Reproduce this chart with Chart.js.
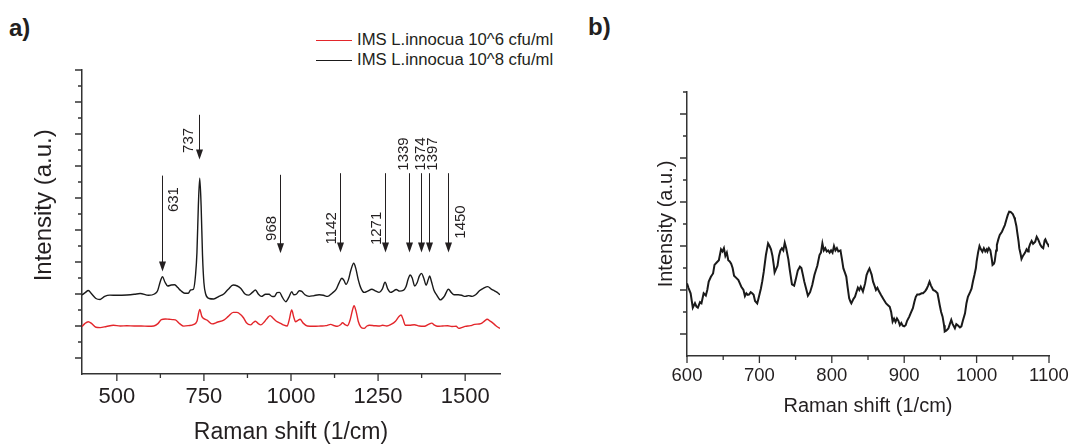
<!DOCTYPE html>
<html>
<head>
<meta charset="utf-8">
<script src="https://cdn.jsdelivr.net/npm/chart.js@4.4.1/dist/chart.umd.min.js"></script>
<style>
  body { margin: 0; background: #fff; width: 1075px; height: 446px; position: relative; overflow: hidden;
         font-family: "Liberation Sans", Arial, sans-serif; color: #231f20; }
  canvas { position: absolute; top: 0; }
  #left { left: 0; }
  #right { left: 560px; }
  .tag { position: absolute; font-weight: bold; font-size: 24px; line-height: 24px; }
  .legend { position: absolute; left: 316px; top: 30px; font-size: 16.7px; line-height: 20px; }
  .legend div { display: flex; align-items: center; }
  .legend span.sw { display: inline-block; width: 36px; height: 0; border-top: 1.5px solid; margin-right: 5px; }
</style>
</head>
<body>
<div class="tag" style="left:9px;top:16px">a)</div>
<div class="tag" style="left:588px;top:15px">b)</div>
<div class="legend">
  <div><span class="sw" style="border-color:#e3262b"></span>IMS L.innocua 10^6 cfu/ml</div>
  <div><span class="sw" style="border-color:#1a1a1a"></span>IMS L.innocua 10^8 cfu/ml</div>
</div>
<canvas id="left" width="560" height="446"></canvas>
<canvas id="right" width="515" height="446"></canvas>
<script>
// ---- panel a: spectra (offset intensities, arbitrary units) ----
const shiftA = [400,410,418,428,440,452,465,480,500,529,550,567,591,608,617,625,631,638,646,656,666,675,684,695,705,712,720,726,730,734,738,742,746,750,755,765,778,793,807,820,834,846,856,868,879,889,898,906,915,927,937,945,952,960,967,975,985,994,1002,1008,1016,1024,1031,1040,1052,1066,1081,1093,1105,1118,1129,1138,1146,1152,1158,1165,1172,1180,1186,1193,1200,1210,1220,1232,1242,1253,1262,1270,1278,1286,1294,1302,1312,1322,1330,1336,1342,1348,1355,1362,1368,1375,1381,1388,1394,1398,1403,1410,1418,1429,1440,1452,1460,1468,1480,1490,1500,1510,1520,1530,1541,1552,1565,1575,1584,1592,1600];
const conc8 = [4.94,5.1,5.22,5.0,4.72,4.66,4.85,4.93,4.92,4.94,4.98,5.03,4.92,5.0,5.2,5.8,6.08,5.75,5.5,5.56,5.58,5.4,5.2,5.05,5.05,5.25,5.3,6.2,7.6,10.5,12.23,10.5,7.4,5.7,5.0,4.72,4.69,4.85,5.0,5.3,5.56,5.5,5.35,5.0,4.93,5.1,5.25,5.0,4.85,4.98,4.98,4.85,4.84,5.08,5.1,4.8,4.52,4.8,5.15,4.95,5.0,5.2,5.16,4.95,4.85,4.9,4.95,4.92,4.85,5.05,5.27,5.7,5.98,5.85,5.6,5.9,6.5,6.92,6.6,5.9,5.4,5.1,5.18,5.3,5.2,5.1,5.3,5.73,5.3,5.1,5.18,5.28,5.18,5.22,5.45,5.9,6.19,6.0,5.5,5.7,6.1,6.29,6.0,5.55,5.9,6.13,5.8,5.25,4.95,4.63,4.85,5.3,5.1,4.95,4.95,4.92,4.85,4.9,4.85,4.95,5.2,5.35,5.46,5.3,5.2,5.1,4.95];

const shiftB = [400,408,418,428,440,452,470,490,510,529,550,570,590,606,618,628,639,650,660,668,680,692,705,721,730,738,744,750,760,773,790,807,820,834,845,856,864,872,884,891,898,906,913,925,933,940,948,958,970,980,989,995,1002,1008,1013,1020,1026,1035,1047,1065,1085,1100,1114,1124,1133,1142,1148,1155,1162,1170,1176,1181,1187,1193,1200,1210,1218,1225,1240,1255,1263,1275,1287,1300,1310,1316,1322,1328,1340,1354,1368,1383,1395,1404,1412,1421,1435,1450,1462,1474,1482,1490,1500,1515,1527,1545,1556,1563,1572,1584,1592,1600];
const conc6 = [2.96,3.15,3.27,3.15,2.92,2.9,2.97,3.05,3.0,3.02,3.0,3.0,2.98,3.0,3.15,3.4,3.44,3.42,3.4,3.38,3.15,2.99,3.02,3.1,3.3,4.04,3.6,3.46,3.35,3.13,3.25,3.37,3.6,3.85,3.85,3.7,3.5,3.2,3.07,3.2,3.3,3.15,3.07,3.3,3.52,3.65,3.5,3.3,3.17,3.05,3.0,3.4,4.0,3.55,3.27,3.35,3.42,3.18,3.0,2.98,3.0,3.02,3.1,3.02,2.98,3.08,3.2,3.08,3.02,3.4,3.95,4.27,3.9,3.3,2.95,2.85,3.0,3.05,3.02,3.0,3.05,3.0,3.1,3.3,3.6,3.69,3.4,3.05,3.05,3.08,3.0,2.98,3.1,3.18,3.05,2.98,3.0,3.02,2.97,2.98,2.85,2.9,2.98,3.02,3.1,3.15,3.32,3.42,3.3,3.1,2.95,2.85];

// marked bands: arrow top, arrow tip (intensity units) and label centre height
const bands     = [631, 737, 968, 1142, 1271, 1339, 1374, 1397, 1450];
const bandTop   = [12.4, 16.2, 12.45, 12.55, 12.55, 12.55, 12.55, 12.55, 12.55];
const bandTip   = [6.4, 13.4, 7.55, 7.6, 7.6, 7.6, 7.6, 7.6, 7.6];
const bandTextY = [10.9, 14.6, 9.1, 9.1, 9.1, 13.75, 13.75, 13.75, 9.5];
// horizontal nudge of each label from its arrow, px
const bandTextDx = [11, -11, -9, -9, -9, -6, -1, 3, 12];

const ticksA = { xMajor: [500, 750, 1000, 1250, 1500], xMinor: [625, 875, 1125, 1375],
                 yMajor: [1,3,5,7,9,11,13,15,17,19], yMinor: [2,4,6,8,10,12,14,16,18] };

// ---- panel b: single spectrum 600-1100 ----
const shiftC = [600,602,605,608,611,613,615,618,620,623,626,628,630,633,636,638,641,644,647,649,651,653,655,657,659,661,663,665,668,671,673,675,678,680,682,684,686,688,690,692,694,697,699,702,704,706,709,712,714,716,718,720,721,723,725,727,729,731,733,735,737,740,742,745,748,750,753,756,758,760,762,765,767,770,773,776,778,780,783,785,787,789,791,793,795,797,799,801,803,805,807,809,812,814,816,818,820,822,824,826,827,830,832,834,836,838,840,843,846,848,850,852,855,857,859,861,863,865,868,871,875,878,880,882,884,886,888,890,892,894,896,898,900,902,904,907,909,912,914,916,918,921,924,926,929,931,933,935,937,940,943,946,948,949,951,953,955,956,958,961,963,965,967,970,972,974,977,979,981,984,986,988,991,993,995,997,999,1000,1002,1004,1006,1008,1010,1012,1014,1015,1017,1019,1021,1022,1024,1025,1027,1028,1030,1032,1035,1037,1039,1041,1043,1045,1047,1050,1052,1053,1055,1056,1058,1059,1061,1062,1064,1067,1069,1071,1072,1074,1076,1078,1081,1083,1085,1088,1090,1092,1094,1095,1097,1099,1100];
const intensC = [3.3,3.1,2.85,2.2,2.4,2.25,2.2,2.45,2.4,2.85,2.75,3.0,3.38,3.6,3.75,4.14,4.25,4.35,4.85,4.75,4.9,4.55,4.7,4.35,4.3,4.2,4.0,3.65,3.55,3.45,3.3,3.15,3.0,2.72,2.85,2.78,2.8,2.9,2.85,2.78,2.5,2.39,2.65,3.06,3.4,3.82,4.59,5.12,5.0,4.85,4.56,4.1,3.8,3.95,4.1,4.55,4.8,4.9,4.8,5.15,4.9,4.39,3.9,3.26,3.2,3.45,3.88,4.06,4.0,3.7,3.38,3.0,2.74,2.9,3.23,3.68,3.9,4.1,4.59,4.7,5.12,4.8,4.9,4.75,4.8,4.7,4.8,4.7,5.0,4.8,4.9,4.75,4.8,4.4,3.98,3.8,3.61,3.1,2.62,2.45,2.39,2.6,2.69,2.9,3.11,3.0,3.15,2.93,3.3,3.68,3.85,3.98,3.7,3.38,3.2,3.0,3.1,2.95,2.77,2.6,2.39,2.3,2.24,2.0,1.56,1.7,1.55,1.71,1.6,1.4,1.5,1.38,1.35,1.4,1.6,1.79,1.95,2.17,2.45,2.69,2.8,2.8,2.85,2.85,2.95,3.05,3.2,3.38,3.2,3.0,2.95,2.85,2.5,2.32,2.0,1.79,1.4,1.11,1.15,1.25,1.45,1.64,1.45,1.26,1.45,1.4,1.3,1.35,1.6,1.94,2.4,2.69,2.9,3.06,3.4,3.68,4.0,4.29,4.7,5.0,4.85,4.74,4.9,4.75,4.85,4.75,4.9,4.8,4.4,4.14,4.2,4.3,4.8,5.05,5.3,5.5,5.65,5.8,5.95,6.18,6.4,6.56,6.55,6.45,6.3,6.2,5.9,5.65,5.2,4.89,4.6,4.41,4.55,4.7,4.85,4.75,4.9,5.1,5.23,5.1,5.2,5.42,5.3,5.05,4.95,4.9,5.25,5.3,5.15,5.05,4.95];

const ticksB = { xMajor: [600, 700, 800, 900, 1000, 1100], xMinor: [650, 750, 850, 950, 1050],
                 yMajor: [1,3,5,7,9,11], yMinor: [2,4,6,8,10,12] };

const ink = '#231f20';
const pts = (xs, ys) => xs.map((x, i) => ({ x: x, y: ys[i] }));

// outward tick marks, long on major values, short on minor ones
const tickMarks = {
  id: 'tickMarks',
  afterDraw(chart, args, o) {
    const { ctx, scales: { x, y } } = chart;
    ctx.save();
    ctx.strokeStyle = '#333';
    ctx.lineWidth = 1.3;
    ctx.beginPath();
    const xt = (v, len) => { const p = x.getPixelForValue(v); ctx.moveTo(p, x.top); ctx.lineTo(p, x.top + len); };
    const yt = (v, len) => { const p = y.getPixelForValue(v); ctx.moveTo(y.right, p); ctx.lineTo(y.right - len, p); };
    o.xMajor.forEach(v => xt(v, o.major));
    o.xMinor.forEach(v => xt(v, o.minor));
    o.yMajor.forEach(v => yt(v, o.major));
    o.yMinor.forEach(v => yt(v, o.minor));
    ctx.stroke();
    ctx.restore();
  }
};

// downward arrows with rotated wavenumber labels
const bandArrows = {
  id: 'bandArrows',
  afterDatasetsDraw(chart) {
    const { ctx, scales: { x, y } } = chart;
    ctx.save();
    ctx.strokeStyle = ink;
    ctx.fillStyle = ink;
    ctx.lineWidth = 1;
    ctx.font = '15px "Liberation Sans", Arial, sans-serif';
    ctx.textAlign = 'center';
    ctx.textBaseline = 'middle';
    bands.forEach((b, i) => {
      const px = Math.round(x.getPixelForValue(b)) + 0.5;
      const top = y.getPixelForValue(bandTop[i]);
      const tip = y.getPixelForValue(bandTip[i]);
      ctx.beginPath();
      ctx.moveTo(px, top);
      ctx.lineTo(px, tip - 8);
      ctx.stroke();
      ctx.beginPath();
      ctx.moveTo(px - 3.5, tip - 10);
      ctx.lineTo(px + 3.5, tip - 10);
      ctx.lineTo(px, tip);
      ctx.closePath();
      ctx.fill();
      ctx.save();
      ctx.translate(px + bandTextDx[i], y.getPixelForValue(bandTextY[i]));
      ctx.rotate(-Math.PI / 2);
      ctx.fillText(String(b), 0, 0);
      ctx.restore();
    });
    ctx.restore();
  }
};

function axes(cfg) {
  return {
    x: {
      type: 'linear', min: cfg.xmin, max: cfg.xmax,
      afterFit: s => { s.height = cfg.xh; },
      afterBuildTicks: s => { s.ticks = cfg.ticks.xMajor.map(v => ({ value: v })); },
      grid: { display: false },
      border: { display: true, color: '#333', width: 1.5 },
      ticks: { color: ink, padding: cfg.tickPad, maxRotation: 0, autoSkip: false,
               callback: v => String(v),
               font: { size: cfg.tickSize, family: '"Liberation Sans", Arial, sans-serif' } },
      title: { display: true, text: 'Raman shift (1/cm)', color: ink, padding: { top: 0, bottom: cfg.xTitlePad },
               font: { size: cfg.titleSize, family: '"Liberation Sans", Arial, sans-serif' } }
    },
    y: {
      type: 'linear', min: 0, max: cfg.ymax,
      afterFit: s => { s.width = cfg.yw; },
      grid: { display: false },
      border: { display: true, color: '#333', width: 1.5 },
      ticks: { display: false },
      title: { display: true, text: cfg.yTitle, color: ink, padding: { top: cfg.yTitlePad, bottom: 0 },
               font: { size: cfg.yTitleSize, family: '"Liberation Sans", Arial, sans-serif' } }
    }
  };
}

new Chart(document.getElementById('left'), {
  type: 'line',
  data: {
    datasets: [
      { label: 'IMS L.innocua 10^6 cfu/ml', data: pts(shiftB, conc6), borderColor: '#e3262b', borderWidth: 1.4 },
      { label: 'IMS L.innocua 10^8 cfu/ml', data: pts(shiftA, conc8), borderColor: '#1a1a1a', borderWidth: 1.4 }
    ]
  },
  options: {
    responsive: false, animation: false,
    layout: { padding: { left: 0, right: 60, top: 70, bottom: 0 } },
    elements: { point: { radius: 0 }, line: { tension: 0.4, cubicInterpolationMode: 'monotone' } },
    plugins: {
      legend: { display: false }, tooltip: { enabled: false },
      tickMarks: Object.assign({ major: 7, minor: 4 }, ticksA)
    },
    // leading spaces lift the rotated y title a little above the plot centre
    scales: axes({ xmin: 400, xmax: 1600, ymax: 19, xh: 72, yw: 82, ticks: ticksA,
                   yTitle: '     Intensity (a.u.)',
                   tickPad: 2, tickSize: 22, titleSize: 23, yTitleSize: 24, xTitlePad: 0, yTitlePad: 30 })
  },
  plugins: [tickMarks, bandArrows]
});

new Chart(document.getElementById('right'), {
  type: 'line',
  data: {
    datasets: [
      { label: 'Intensity', data: pts(shiftC, intensC), borderColor: '#1a1a1a', borderWidth: 2 }
    ]
  },
  options: {
    responsive: false, animation: false,
    layout: { padding: { left: 0, right: 26, top: 92, bottom: 0 } },
    elements: { point: { radius: 0 }, line: { tension: 0 } },
    plugins: {
      legend: { display: false }, tooltip: { enabled: false },
      tickMarks: Object.assign({ major: 7, minor: 4 }, ticksB)
    },
    scales: axes({ xmin: 600, xmax: 1100, ymax: 12, xh: 90, yw: 127, ticks: ticksB,
                   yTitle: 'Intensity (a.u.)',
                   tickPad: 1, tickSize: 18.5, titleSize: 20, yTitleSize: 20, xTitlePad: 28, yTitlePad: 94 })
  },
  plugins: [tickMarks]
});
</script>
</body>
</html>
